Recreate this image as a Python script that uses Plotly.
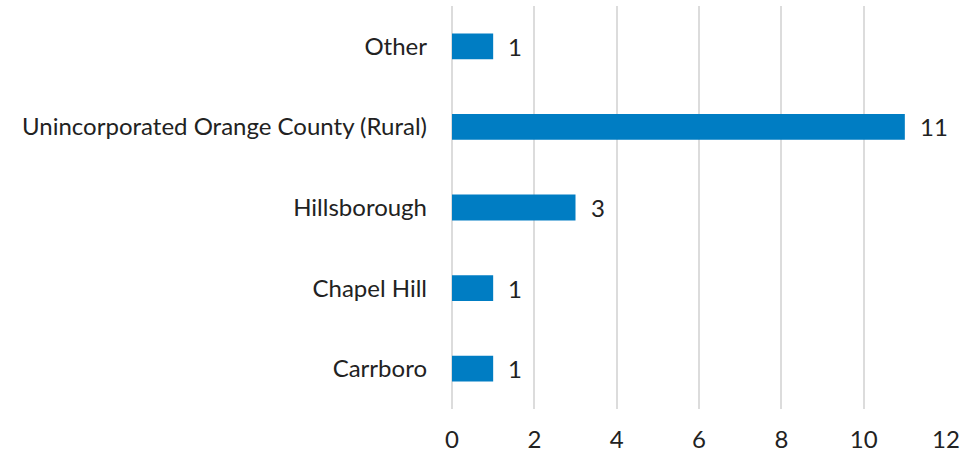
import plotly.graph_objects as go

categories = ["Carrboro", "Chapel Hill", "Hillsborough", "Unincorporated Orange County (Rural)", "Other"]
values = [1, 1, 3, 11, 1]
x_ticks = [0, 2, 4, 6, 8, 10, 12]

FONT = "Lato"
FS = 24
fig = go.Figure()
fig.add_trace(go.Bar(
    y=categories, x=values, orientation="h",
    marker=dict(color="#007DC3", line=dict(width=0)),
    width=0.32,
))
for c, v in zip(categories, values):
    fig.add_annotation(x=v, y=c, text=str(v), showarrow=False, xanchor="left",
                       xshift=13, font=dict(family=FONT, size=FS, color="#222222"))

fig.update_layout(
    width=969, height=455,
    margin=dict(l=452, r=23, t=6, b=46),
    paper_bgcolor="white", plot_bgcolor="white",
    showlegend=False,
    font=dict(family=FONT, size=FS, color="#222222"),
    xaxis=dict(range=[0, 12], tickvals=x_ticks, showgrid=True, gridcolor="#dcdcdc",
               gridwidth=2, zeroline=True, zerolinecolor="#dcdcdc", zerolinewidth=2,
               showline=False, ticks="", ticklabelstandoff=14, automargin=False,
               tickfont=dict(family=FONT, size=FS, color="#222222")),
    yaxis=dict(categoryorder="array", categoryarray=categories, showgrid=False,
               zeroline=False, showline=False, ticks="", ticklabelstandoff=24,
               automargin=False,
               tickfont=dict(family=FONT, size=FS, color="#222222")),
)
fig.write_html("out.html", config={"displayModeBar": False},
               post_script="document.body.style.margin='0';document.body.style.overflow='hidden';")
